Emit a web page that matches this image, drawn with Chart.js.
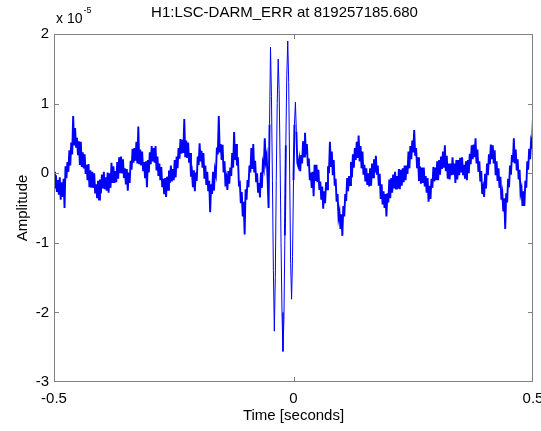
<!DOCTYPE html>
<html>
<head>
<meta charset="utf-8">
<script src="https://cdn.jsdelivr.net/npm/chart.js@4/dist/chart.umd.min.js"></script>
<style>
  html, body { margin: 0; padding: 0; background: #fff; }
  canvas { display: block; }
</style>
</head>
<body>
<canvas id="darmChart" width="541" height="431"></canvas>
<script>
// H1:LSC-DARM_ERR strain channel, amplitude in units of 1e-5

const chartTitle = 'H1:LSC-DARM_ERR at 819257185.680';
const xTicks = [-0.5, 0, 0.5];
const yTicks = [2, 1, 0, -1, -2, -3];

// sample grid: 2 ms steps from -0.5 s to +0.5 s
const sampleStart = -0.5;
const sampleStep = 0.002;

// amplitude (x 1e-5)
const amplitude = [
    0.02, -0.22, -0.03, -0.27, -0.1, -0.31, -0.06, -0.38, -0.13, -0.34,
    -0.08, -0.5, 0.1, -0.07, 0.16, 0.02, 0.33, 0.11, 0.44, 0.27,
    0.82, 0.4, 0.65, 0.38, 0.51, 0.26, 0.46, 0.12, 0.45, 0.09,
    0.3, 0.07, 0.27, -0.01, 0.12, -0.1, 0.13, -0.2, 0.04, -0.21,
    0.02, -0.21, 0.0, -0.29, -0.16, -0.36, -0.11, -0.38, -0.09, -0.29,
    -0.02, -0.22, 0.02, -0.23, -0.06, -0.25, 0.01, -0.28, 0.0, -0.21,
    0.15, -0.14, 0.1, -0.14, 0.03, -0.13, 0.16, -0.08, 0.23, 0.0,
    0.24, 0.01, 0.2, -0.07, 0.07, -0.16, 0.06, -0.25, 0.01, -0.14,
    0.18, 0.05, 0.35, 0.15, 0.36, 0.18, 0.45, 0.14, 0.67, 0.13,
    0.34, 0.11, 0.31, 0.03, 0.16, -0.06, 0.17, -0.2, 0.19, 0.01,
    0.3, 0.13, 0.39, 0.17, 0.36, 0.15, 0.39, 0.04, 0.24, -0.04,
    0.14, -0.1, 0.09, -0.2, -0.08, -0.3, -0.07, -0.34, -0.05, -0.24,
    0.04, -0.14, 0.11, -0.12, 0.06, -0.1, 0.19, -0.06, 0.24, 0.07,
    0.36, 0.21, 0.49, 0.28, 0.48, 0.29, 0.78, 0.23, 0.47, 0.22,
    0.44, 0.15, 0.29, -0.05, 0.02, -0.2, 0.04, -0.26, 0.01, -0.11,
    0.24, 0.12, 0.43, 0.17, 0.32, 0.08, 0.29, -0.08, 0.11, -0.17,
    0.02, -0.26, -0.11, -0.56, -0.16, -0.3, 0.02, -0.25, 0.05, -0.02,
    0.37, 0.27, 0.82, 0.3, 0.42, 0.19, 0.41, 0.01, 0.17, -0.19,
    -0.08, -0.24, 0.03, -0.15, 0.08, -0.04, 0.29, 0.08, 0.59, 0.19,
    0.42, 0.11, 0.23, -0.16, -0.14, -0.43, -0.27, -0.62, -0.41, -0.88,
    -0.23, -0.38, -0.1, -0.2, 0.11, 0.01, 0.36, 0.06, 0.42, 0.01,
    0.18, -0.13, 0.0, -0.28, -0.14, -0.35, 0.01, -0.21, 0.14, 0.07,
    0.5, 0.17, 0.25, -0.1, -0.5, 0.7, 1.81, 1.1, -0.1, -1.4,
    -2.27, -1.5, -0.1, 1.0, 1.64, 1.2, 0.2, -1.0, -2.0, -2.56,
    -2.1, -0.9, 0.4, 1.4, 1.9, 1.3, 0.0, -1.3, -1.81, -1.2,
    -0.1, 0.7, 1.02, 0.6, 0.15, 0.1, 0.2, 0.03, 0.26, 0.14,
    0.46, 0.24, 0.58, 0.27, 0.42, 0.1, 0.21, -0.1, 0.01, -0.21,
    0.02, -0.33, 0.12, -0.11, 0.12, -0.13, 0.05, -0.24, -0.12, -0.38,
    -0.19, -0.51, -0.26, -0.43, -0.13, -0.23, 0.1, 0.0, 0.45, 0.09,
    0.31, -0.03, 0.19, -0.18, -0.08, -0.41, -0.3, -0.64, -0.56, -0.8,
    -0.59, -0.9, -0.47, -0.62, -0.3, -0.4, -0.07, -0.26, -0.04, -0.17,
    0.16, -0.06, 0.27, 0.08, 0.36, 0.19, 0.45, 0.22, 0.54, 0.17,
    0.39, 0.07, 0.31, -0.02, 0.12, -0.12, 0.07, -0.17, 0.0, -0.19,
    0.07, -0.18, 0.14, -0.06, 0.2, 0.01, 0.25, -0.02, 0.11, -0.18,
    -0.01, -0.37, -0.16, -0.45, -0.26, -0.5, -0.3, -0.62, -0.29, -0.42,
    -0.09, -0.36, -0.07, -0.28, -0.02, -0.22, 0.02, -0.22, -0.04, -0.22,
    0.06, -0.23, 0.05, -0.18, 0.07, -0.13, 0.11, -0.1, 0.11, -0.01,
    0.31, 0.07, 0.39, 0.2, 0.47, 0.3, 0.62, 0.25, 0.36, 0.07,
    0.23, -0.11, 0.1, -0.15, 0.08, -0.14, 0.08, -0.19, -0.04, -0.28,
    -0.07, -0.41, -0.18, -0.37, -0.08, -0.21, 0.09, -0.12, 0.08, -0.1,
    0.17, -0.1, 0.19, -0.02, 0.24, 0.06, 0.31, 0.08, 0.4, 0.03,
    0.25, -0.08, 0.14, -0.09, 0.14, -0.03, 0.23, -0.02, 0.14, -0.14,
    0.19, -0.09, 0.19, -0.03, 0.22, 0.01, 0.23, -0.03, 0.12, -0.08,
    0.17, -0.1, 0.19, 0.0, 0.28, 0.13, 0.4, 0.2, 0.41, 0.23,
    0.5, 0.14, 0.34, 0.02, 0.17, -0.12, 0.03, -0.3, -0.21, -0.34,
    -0.01, -0.22, 0.14, -0.03, 0.27, 0.13, 0.41, 0.2, 0.4, 0.14,
    0.33, -0.03, 0.17, -0.11, 0.07, -0.21, -0.05, -0.38, -0.29, -0.55,
    -0.36, -0.8, -0.29, -0.42, -0.08, -0.2, 0.11, -0.02, 0.26, 0.16,
    0.5, 0.14, 0.34, 0.04, 0.2, -0.09, 0.05, -0.29, -0.22, -0.47,
    -0.26, -0.47, -0.11, -0.21, 0.17, 0.05, 0.35, 0.2, 0.46, 0.4,
    0.8
];

const points = amplitude.map((v, i) => ({ x: sampleStart + i * sampleStep, y: v }));

const FONT = '"Liberation Sans", Arial, Helvetica, sans-serif';
const AXIS_GREY = '#808080';

// the burst strokes are thin, the noisy background is a dense band
const segWidth = ctx => (Math.abs(ctx.p0.parsed.y) > 0.95 || Math.abs(ctx.p1.parsed.y) > 0.95) ? 1 : 1.9;

// MATLAB-like frame: full box, inward ticks, title and exponent
const matlabFrame = {
    id: 'matlabFrame',
    afterDraw(chart) {
        const { ctx, chartArea: a, scales } = chart;
        ctx.save();
        ctx.strokeStyle = AXIS_GREY;
        ctx.lineWidth = 1;
        ctx.strokeRect(Math.round(a.left) + 0.5, Math.round(a.top) + 0.5,
            Math.round(a.width) - 1, Math.round(a.height) - 1);

        const tickLen = 5;
        ctx.beginPath();
        yTicks.forEach(v => {
            if (v === 2 || v === -3) return;
            const py = Math.round(scales.y.getPixelForValue(v)) + 0.5;
            ctx.moveTo(a.left, py);
            ctx.lineTo(a.left + tickLen, py);
            ctx.moveTo(a.right, py);
            ctx.lineTo(a.right - tickLen, py);
        });
        xTicks.forEach(v => {
            if (v === -0.5 || v === 0.5) return;
            const px = Math.round(scales.x.getPixelForValue(v)) + 0.5;
            ctx.moveTo(px, a.top);
            ctx.lineTo(px, a.top + tickLen);
            ctx.moveTo(px, a.bottom);
            ctx.lineTo(px, a.bottom - tickLen);
        });
        ctx.stroke();

        ctx.fillStyle = '#000';
        ctx.textBaseline = 'middle';
        ctx.textAlign = 'center';
        ctx.font = '15px ' + FONT;
        ctx.fillText(chartTitle, (a.left + a.right) / 2 - 9, 13);

        ctx.textAlign = 'left';
        ctx.font = '14px ' + FONT;
        ctx.fillText('x 10', a.left + 2, 19);
        const w = ctx.measureText('x 10').width;
        ctx.font = '9px ' + FONT;
        ctx.fillText('-5', a.left + 2 + w + 1, 11);
        ctx.restore();
    }
};

new Chart(document.getElementById('darmChart'), {
    type: 'line',
    data: {
        datasets: [{
            data: points,
            borderColor: '#0000ff',
            borderWidth: 1.9,
            segment: { borderWidth: segWidth },
            pointRadius: 0,
            tension: 0,
            fill: false
        }]
    },
    options: {
        responsive: false,
        animation: false,
        layout: { padding: { top: 34, right: 8, left: 0, bottom: 0 } },
        plugins: {
            legend: { display: false },
            tooltip: { enabled: false }
        },
        scales: {
            x: {
                type: 'linear',
                min: -0.5,
                max: 0.5,
                afterBuildTicks: s => { s.ticks = xTicks.map(v => ({ value: v })); },
                afterFit: s => { s.height = 49; s.paddingLeft = 0; s.paddingRight = 0; },
                grid: { display: false, drawTicks: false },
                border: { display: false },
                ticks: {
                    color: '#000',
                    padding: 8,
                    maxRotation: 0,
                    autoSkip: false,
                    font: { family: FONT, size: 15 },
                    callback: v => String(v)
                },
                title: {
                    display: true,
                    text: 'Time [seconds]',
                    color: '#000',
                    font: { family: FONT, size: 15 },
                    padding: { top: 0, bottom: 6 }
                }
            },
            y: {
                min: -3,
                max: 2,
                afterBuildTicks: s => { s.ticks = yTicks.map(v => ({ value: v })); },
                afterFit: s => { s.width = 54; s.paddingTop = 0; s.paddingBottom = 0; },
                grid: { display: false, drawTicks: false },
                border: { display: false },
                ticks: {
                    color: '#000',
                    padding: 5,
                    autoSkip: false,
                    font: { family: FONT, size: 15 },
                    callback: v => String(v)
                },
                title: {
                    display: true,
                    text: 'Amplitude',
                    color: '#000',
                    font: { family: FONT, size: 15 },
                    padding: { top: 14, bottom: 0 }
                }
            }
        }
    },
    plugins: [matlabFrame]
});
</script>
</body>
</html>
